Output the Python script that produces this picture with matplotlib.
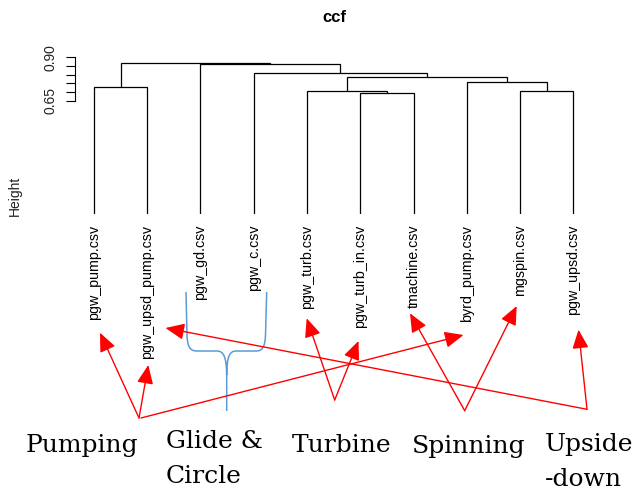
import matplotlib
matplotlib.use("Agg")
import matplotlib.pyplot as plt
from matplotlib.path import Path
from matplotlib.patches import PathPatch, FancyArrowPatch

# ---------------- data ----------------
leaf_labels = ["pgw_pump.csv", "pgw_upsd_pump.csv", "pgw_gd.csv", "pgw_c.csv",
               "pgw_turb.csv", "pgw_turb_in.csv", "tmachine.csv", "byrd_pump.csv",
               "mgspin.csv", "pgw_upsd.csv"]
# R-style merge matrix: negative = leaf index (1-based, in plotting order), positive = earlier merge
merge_left = [-6, -5, -9, -1, -8, 2, -4, -3, 4]
merge_right = [-7, 1, -10, -2, 3, 5, 6, 7, 8]
merge_height = [0.694, 0.708, 0.708, 0.728, 0.760, 0.789, 0.808, 0.860, 0.866]
ytick_values = [0.65, 0.70, 0.75, 0.80, 0.85, 0.90]
ytick_labels = ["0.65", "", "", "", "", "0.90"]
title = "ccf"
ylabel = "Height"

# annotation groups (figure pixel coordinates, origin top-left)
group_names = ["Pumping", "Glide &\nCircle", "Turbine", "Spinning", "Upside\n-down"]
group_text_xy = [(26, 451.7), (165.7, 448.3), (291.7, 451.7), (412, 452.7), (544.7, 451)]
arrow_starts = [(139, 418), (139, 418), (141, 418),
                (334.7, 400), (334.7, 400),
                (464.7, 410.7), (464.7, 410.7),
                (587, 409.3), (587, 409.3)]
arrow_tips = [(100, 332.7), (148.3, 365), (463.5, 335),
              (306.7, 318.3), (358.5, 341),
              (410, 313.3), (516.7, 306),
              (165.5, 328), (578.5, 329.7)]

# ---------------- figure ----------------
W, H = 632, 496
fig = plt.figure(figsize=(W / 100, H / 100), dpi=100)
fig.patch.set_facecolor("white")
sans = "Liberation Sans"

ax = fig.add_axes([74.8 / W, (H - 214.3) / H, 517.7 / W, (214.3 - 52.1) / H])
n = len(leaf_labels)
ax.set_xlim(0.64, n + 0.36)
ax.set_ylim(0.0, 0.93)

# draw dendrogram
pos = {}
hgt = {}
for i in range(1, n + 1):
    pos[-i] = float(i)
    hgt[-i] = 0.0
lc = "black"
lw = 0.9
for k, (a, b, h) in enumerate(zip(merge_left, merge_right, merge_height), start=1):
    xa, xb = pos[a], pos[b]
    ax.plot([xa, xa, xb, xb], [hgt[a], h, h, hgt[b]], color=lc, lw=lw,
            solid_capstyle="butt", solid_joinstyle="miter")
    pos[k] = (xa + xb) / 2
    hgt[k] = h

for i, lab in enumerate(leaf_labels, start=1):
    ax.annotate(lab, xy=(i, 0), xytext=(0, -7.5), textcoords="offset points",
                rotation=90, ha="center", va="top", fontsize=10.3, family=sans,
                color="black")

for s in ["top", "right", "bottom"]:
    ax.spines[s].set_visible(False)
ax.spines["left"].set_bounds(ytick_values[0], ytick_values[-1])
ax.spines["left"].set_linewidth(0.8)
ax.set_xticks([])
ax.set_yticks(ytick_values)
ax.set_yticklabels(ytick_labels, rotation=90, va="center", family=sans, fontsize=10,
                   color="#222222")
ax.tick_params(axis="y", length=6.5, width=0.8, pad=6)
ax.patch.set_alpha(0)

fig.text(334 / W, 1 - 17.5 / H, title, ha="center", va="center",
         fontsize=12, fontweight="bold", family=sans)
fig.text(15 / W, 1 - 195.5 / H, ylabel, ha="center", va="center", rotation=90,
         fontsize=10, family=sans, color="#222222")

# ---------------- overlay annotations ----------------
ov = fig.add_axes([0, 0, 1, 1])
ov.set_xlim(0, W)
ov.set_ylim(H, 0)
ov.axis("off")
ov.patch.set_alpha(0)

# blue brace
verts = [(186, 292), (187, 335), (187.5, 347), (190, 351), (197, 351),
         (217, 351), (224, 351), (226.5, 358), (226.7, 375), (226.7, 411),
         (226.7, 375), (226.9, 358), (229, 351), (236, 351),
         (256, 351), (262.5, 351), (265, 347), (265.5, 335), (266.7, 292)]
codes = [Path.MOVETO, Path.LINETO, Path.CURVE4, Path.CURVE4, Path.CURVE4,
         Path.LINETO, Path.CURVE4, Path.CURVE4, Path.CURVE4, Path.LINETO,
         Path.MOVETO, Path.CURVE4, Path.CURVE4, Path.CURVE4,
         Path.LINETO, Path.CURVE4, Path.CURVE4, Path.CURVE4, Path.LINETO]
ov.add_patch(PathPatch(Path(verts, codes), facecolor="none", edgecolor="#5B9BD5", lw=1.1))

for (x0, y0), (x1, y1) in zip(arrow_starts, arrow_tips):
    ov.add_patch(FancyArrowPatch((x0, y0), (x1, y1),
                                 arrowstyle="-|>,head_length=1.15,head_width=0.5",
                                 mutation_scale=10, color="#FF0000", lw=1.0,
                                 shrinkA=0, shrinkB=0))

line_gap = 35
for name, (x, y) in zip(group_names, group_text_xy):
    for j, line in enumerate(name.split("\n")):
        ov.text(x, y + j * line_gap, line, ha="left", va="baseline", fontsize=18,
                family="DejaVu Serif", color="black")

fig.savefig("out.png", dpi=100)
